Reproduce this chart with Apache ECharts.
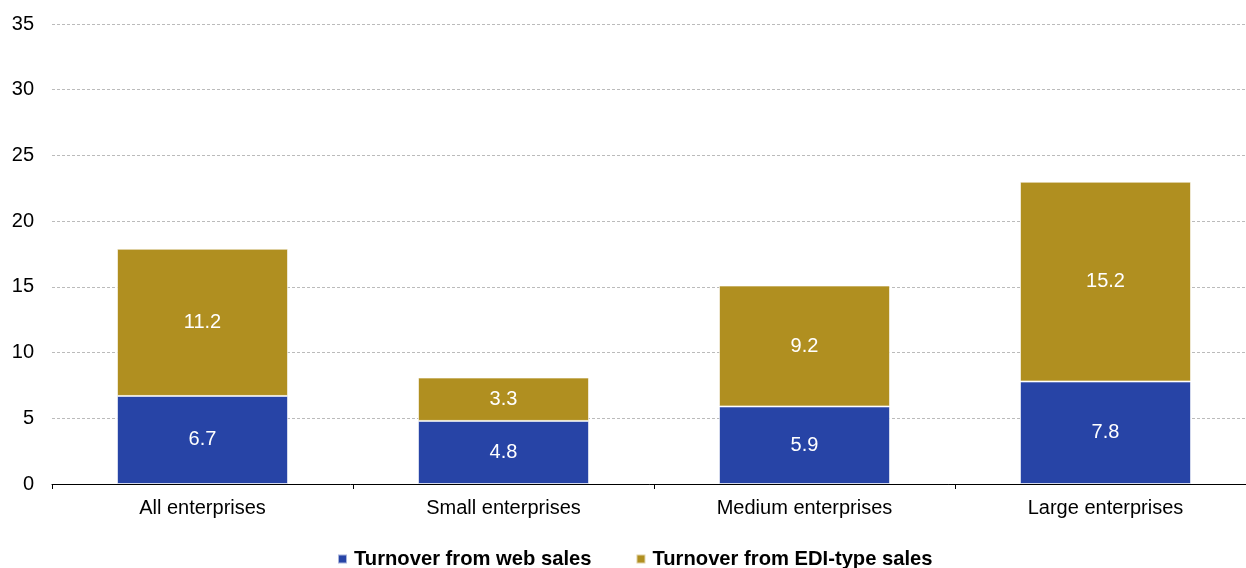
<!DOCTYPE html>
<html>
<head>
<meta charset="utf-8">
<script src="https://cdn.jsdelivr.net/npm/echarts@6/dist/echarts.min.js"></script>
<style>
  html, body { margin: 0; padding: 0; background: #fff; }
  #chart { width: 1246px; height: 568px; }
</style>
</head>
<body>
<div id="chart"></div>
<script>
// Enterprise size classes
const categories = ['All enterprises', 'Small enterprises', 'Medium enterprises', 'Large enterprises'];
// Share of turnover (%) by sales channel
const webSales = [6.7, 4.8, 5.9, 7.8];
const ediSales = [11.2, 3.3, 9.2, 15.2];
const seriesNames = ['Turnover from web sales', 'Turnover from EDI-type sales'];
const yTicks = { min: 0, max: 35, interval: 5 };

const FONT = '"Liberation Sans", Arial, sans-serif';
const BLUE = '#2744A6';
const GOLD = '#B08F20';

const chart = echarts.init(document.getElementById('chart'), null, { renderer: 'canvas' });

const barLabel = {
  show: true,
  position: 'inside',
  color: '#fff',
  fontFamily: FONT,
  fontSize: 20,
  formatter: p => p.value.toFixed(1)
};

chart.setOption({
  animation: false,
  textStyle: { fontFamily: FONT },
  // plot area runs slightly past the right edge of the canvas
  grid: { left: 52, width: 1204, top: 24, bottom: 84, containLabel: false, outerBoundsMode: 'none' },
  legend: {
    left: 332,
    top: 544,
    itemWidth: 9,
    itemHeight: 9,
    itemGap: 44,
    icon: 'rect',
    textStyle: { fontFamily: FONT, fontSize: 20.2, fontWeight: 'bold', color: '#000', padding: [0, 0, 0, 2] },
    data: seriesNames
  },
  xAxis: {
    type: 'category',
    data: categories,
    axisLine: { show: true, lineStyle: { color: '#000', width: 1 } },
    axisTick: { show: true, length: 5, lineStyle: { color: '#000' } },
    axisLabel: { color: '#000', fontSize: 20, fontFamily: FONT, margin: 14 }
  },
  yAxis: {
    type: 'value',
    min: yTicks.min,
    max: yTicks.max,
    interval: yTicks.interval,
    axisLine: { show: false },
    axisTick: { show: false },
    axisLabel: { color: '#000', fontSize: 20, fontFamily: FONT, margin: 18 },
    splitLine: { show: true, lineStyle: { color: '#bbb', type: [3, 2], width: 1 } }
  },
  series: [
    {
      name: seriesNames[0],
      type: 'bar',
      stack: 'total',
      data: webSales,
      barWidth: 171,
      itemStyle: { color: BLUE, borderColor: 'rgba(255,255,255,0.6)', borderWidth: 1 },
      label: barLabel
    },
    {
      name: seriesNames[1],
      type: 'bar',
      stack: 'total',
      data: ediSales,
      barWidth: 171,
      itemStyle: { color: GOLD, borderColor: 'rgba(255,255,255,0.6)', borderWidth: 1 },
      label: barLabel
    }
  ]
});
</script>
</body>
</html>
